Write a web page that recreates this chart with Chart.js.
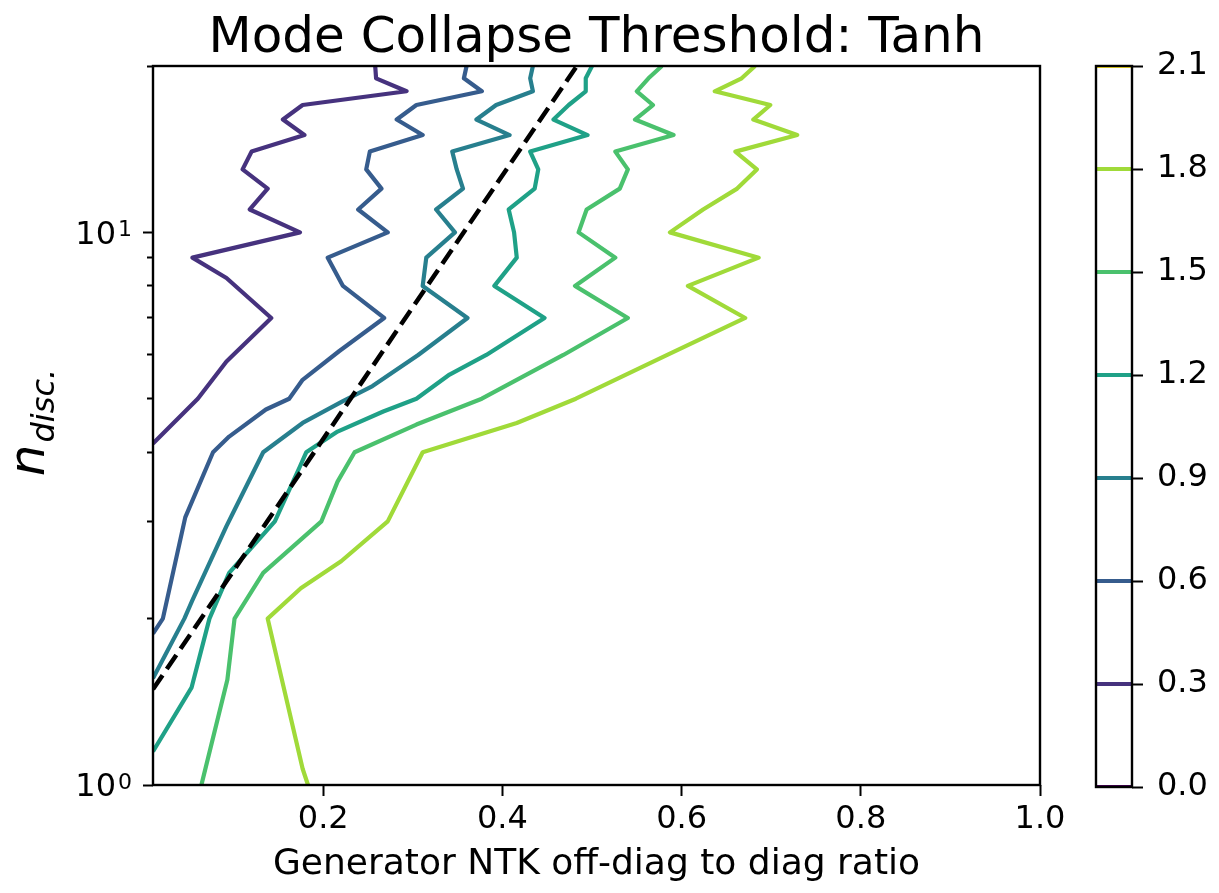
<!DOCTYPE html>
<html>
<head>
<meta charset="utf-8">
<script src="https://cdn.jsdelivr.net/npm/chart.js@4/dist/chart.umd.min.js"></script>
<style>
body{margin:0;background:#fff;}
#wrap{position:relative;width:1219px;height:893px;}
#wrap canvas{position:absolute;top:0;}
#plot{left:0;}
#cbar{left:1060px;}
</style>
</head>
<body>
<div id="wrap">
<canvas id="plot" width="1219" height="893"></canvas>
<canvas id="cbar" width="159" height="893"></canvas>
</div>
<script>
const titleText = "Mode Collapse Threshold: Tanh";
const xTitle = "Generator NTK off-diag to diag ratio";
const yTitleMain = "n";
const yTitleSub = "disc.";

// contour levels and their viridis colours
const levels = [0.3, 0.6, 0.9, 1.2, 1.5, 1.8];
const levelColors = ["#46327e", "#365c8d", "#277f8e", "#1fa187", "#4ac16d", "#a0da39"];
const cbarTicks = [0.0, 0.3, 0.6, 0.9, 1.2, 1.5, 1.8, 2.1];
const cbarColors = ["#440154", "#46327e", "#365c8d", "#277f8e", "#1fa187", "#4ac16d", "#a0da39", "#fde725"];

const xTicks = [0.2, 0.4, 0.6, 0.8, 1.0];
const yTicks = [1, 2, 3, 4, 5, 6, 7, 8, 9, 10, 20];
// decade labels: base and exponent
const yTickBase = {1: "10", 10: "10"};
const yTickExp = {1: "0", 10: "1"};

// contour paths: ratio (x) and n_disc (y)
const ratio03 = [0.258, 0.259, 0.293, 0.177, 0.155, 0.179, 0.120, 0.110, 0.138, 0.118, 0.174, 0.054, 0.092, 0.142, 0.092, 0.060, 0.010];
const ndisc03 = [20, 19, 18, 17, 16, 15, 14, 13, 12, 11, 10, 9, 8.27, 7, 5.84, 5, 4.15];

const ratio06 = [0.360, 0.357, 0.377, 0.304, 0.282, 0.311, 0.252, 0.248, 0.265, 0.239, 0.272, 0.205, 0.222, 0.268, 0.218, 0.177, 0.162, 0.136, 0.095, 0.077, 0.046, 0.021, 0.010];
const ndisc06 = [20, 19, 18, 17, 16, 15, 14, 13, 12, 11, 10, 9, 8, 7, 6.1, 5.41, 5, 4.78, 4.27, 4, 3.05, 2, 1.88];

const ratio09 = [0.434, 0.431, 0.434, 0.393, 0.371, 0.408, 0.344, 0.349, 0.356, 0.326, 0.347, 0.315, 0.311, 0.361, 0.306, 0.255, 0.222, 0.177, 0.133, 0.099, 0.092, 0.054, 0.045, 0.010];
const ndisc09 = [20, 19, 18, 17, 16, 15, 14, 13, 12, 11, 10, 9, 8, 7, 6, 5.27, 4.95, 4.52, 4, 3.1, 2.94, 2.16, 2, 1.56];

const ratio12 = [0.500, 0.493, 0.493, 0.474, 0.457, 0.495, 0.431, 0.440, 0.436, 0.407, 0.413, 0.416, 0.391, 0.447, 0.382, 0.341, 0.304, 0.267, 0.216, 0.181, 0.174, 0.146, 0.095, 0.073, 0.053, 0.010];
const ndisc12 = [20, 19, 18, 17, 16, 15, 14, 13, 12, 11, 10, 9, 8, 7, 6, 5.53, 5, 4.74, 4.36, 4, 3.77, 3, 2.42, 2, 1.50, 1.15];

const ratio15 = [0.578, 0.563, 0.550, 0.568, 0.548, 0.591, 0.526, 0.540, 0.531, 0.494, 0.485, 0.526, 0.481, 0.540, 0.468, 0.377, 0.304, 0.235, 0.216, 0.198, 0.133, 0.101, 0.093, 0.064];
const ndisc15 = [20, 19, 18, 17, 16, 15, 14, 13, 12, 11, 10, 9, 8, 7, 6, 5, 4.49, 4, 3.54, 3, 2.42, 2, 1.55, 1];

const ratio18 = [0.682, 0.667, 0.637, 0.699, 0.680, 0.729, 0.660, 0.684, 0.662, 0.624, 0.587, 0.686, 0.607, 0.671, 0.584, 0.482, 0.416, 0.311, 0.272, 0.220, 0.175, 0.138, 0.177, 0.183];
const ndisc18 = [20, 19, 18, 17, 16, 15, 14, 13, 12, 11, 10, 9, 8, 7, 6, 5, 4.52, 4, 3, 2.54, 2.27, 2, 1.07, 1];

// threshold line
const ratioThresh = [0.010, 0.483];
const ndiscThresh = [1.49, 20];

const ratios = [ratio03, ratio06, ratio09, ratio12, ratio15, ratio18];
const ndiscs = [ndisc03, ndisc06, ndisc09, ndisc12, ndisc15, ndisc18];

function toPoints(xs, ys){
	let pts = [];
	for(let i = 0; i < xs.length; i++){
		pts.push({x: xs[i], y: ys[i]});
	}
	return pts;
}

const tickFont = {family: '"DejaVu Sans", sans-serif', size: 32};
const yTickPad = 27;
const yLabelOffset = 3;

let datasets = [{
	data: toPoints(ratioThresh, ndiscThresh),
	borderColor: "#000",
	borderWidth: 4.5,
	borderDash: [17, 7.5],
	pointRadius: 0,
	order: 0
}];
for(let i = 0; i < levels.length; i++){
	datasets.push({
		data: toPoints(ratios[i], ndiscs[i]),
		borderColor: levelColors[i],
		borderWidth: 4.2,
		borderJoinStyle: "round",
		pointRadius: 0,
		order: 1
	});
}

// frame round the plot area, decade exponents, title and axis labels
const frameAndLabels = {
	id: "frameAndLabels",
	afterDatasetsDraw(chart){
		let a = chart.chartArea;
		let ctx = chart.ctx;
		ctx.save();
		ctx.strokeStyle = "#000";
		ctx.lineWidth = 2.4;
		ctx.strokeRect(a.left, a.top, a.right - a.left, a.bottom - a.top);
		ctx.restore();
	},
	afterDraw(chart){
		let a = chart.chartArea;
		let ctx = chart.ctx;
		let cx = (a.left + a.right) / 2;
		ctx.save();
		ctx.fillStyle = "#000";

		// exponents next to the "10" tick labels
		let ys = chart.scales.y;
		ctx.font = '22px "DejaVu Sans"';
		ctx.textAlign = "left";
		ctx.textBaseline = "alphabetic";
		for(let v in yTickExp){
			let py = ys.getPixelForValue(Number(v)) + yLabelOffset;
			ctx.fillText(yTickExp[v], a.left - 10 - yTickPad + 2, py + 0.5);
		}

		ctx.textAlign = "center";
		ctx.font = '50px "DejaVu Sans"';
		ctx.fillText(titleText, cx, 52);
		ctx.font = '36px "DejaVu Sans"';
		ctx.fillText(xTitle, cx, 874);

		// rotated n_disc. label
		ctx.font = 'italic 50px "DejaVu Sans"';
		let wMain = ctx.measureText(yTitleMain).width;
		ctx.font = 'italic 32px "DejaVu Sans"';
		let wSub = ctx.measureText(yTitleSub).width;
		let total = wMain + wSub + 2;
		ctx.translate(0, (a.top + a.bottom) / 2 - 3);
		ctx.rotate(-Math.PI / 2);
		ctx.textAlign = "left";
		ctx.font = 'italic 50px "DejaVu Sans"';
		ctx.fillText(yTitleMain, -total / 2, 44);
		ctx.font = 'italic 32px "DejaVu Sans"';
		ctx.fillText(yTitleSub, -total / 2 + wMain + 2, 54);
		ctx.restore();
	}
};

new Chart(document.getElementById("plot"), {
	type: "line",
	data: {datasets: datasets},
	options: {
		responsive: false,
		animation: false,
		layout: {padding: {left: 0, right: 179, top: 66, bottom: 0}},
		plugins: {legend: {display: false}, tooltip: {enabled: false}},
		scales: {
			x: {
				type: "linear",
				min: 0.01,
				max: 1.0,
				afterFit: s => { s.height = 108; },
				afterBuildTicks: s => { s.ticks = xTicks.map(v => ({value: v})); },
				border: {display: false},
				grid: {drawOnChartArea: false, tickLength: 11, tickColor: "#000", tickWidth: 2},
				ticks: {autoSkip: false, maxRotation: 0, color: "#000", font: tickFont, padding: 4,
					callback: v => v.toFixed(1)}
			},
			y: {
				type: "logarithmic",
				min: 1,
				max: 20,
				afterFit: s => { s.width = 153; },
				afterBuildTicks: s => { s.ticks = yTicks.map(v => ({value: v, major: v == 1 || v == 10})); },
				border: {display: false},
				grid: {drawOnChartArea: false, tickLength: 10, tickColor: "#000", tickWidth: 2,
					tickBorderDash: c => (c.tick && c.tick.major) ? [] : [0, 4, 6, 100]},
				ticks: {autoSkip: false, color: "#000", font: tickFont, padding: yTickPad, labelOffset: yLabelOffset,
					callback: v => yTickBase[v] || ""}
			}
		}
	},
	plugins: [frameAndLabels]
});

// colour bar with one line per contour level
const cbarFrame = {
	id: "cbarFrame",
	afterDatasetsDraw(chart){
		let a = chart.chartArea;
		let ctx = chart.ctx;
		ctx.save();
		ctx.strokeStyle = "#000";
		ctx.lineWidth = 2.4;
		ctx.strokeRect(a.left, a.top, a.right - a.left, a.bottom - a.top);
		ctx.restore();
	}
};

new Chart(document.getElementById("cbar"), {
	type: "line",
	data: {
		datasets: cbarTicks.map((lv, i) => ({
			data: [{x: 0, y: lv}, {x: 1, y: lv}],
			borderColor: cbarColors[i],
			borderWidth: 4,
			pointRadius: 0,
			clip: 0
		}))
	},
	options: {
		responsive: false,
		animation: false,
		layout: {padding: {left: 36, right: 0, top: 66, bottom: 106}},
		plugins: {legend: {display: false}, tooltip: {enabled: false}},
		scales: {
			x: {type: "linear", min: 0, max: 1, display: false},
			y: {
				type: "linear",
				position: "right",
				min: 0,
				max: 2.1,
				afterFit: s => { s.width = 87; },
				afterBuildTicks: s => { s.ticks = cbarTicks.map(v => ({value: v})); },
				border: {display: false},
				grid: {drawOnChartArea: false, tickLength: 11, tickColor: "#000", tickWidth: 2},
				ticks: {autoSkip: false, color: "#000", font: tickFont, padding: 14,
					callback: v => v.toFixed(1)}
			}
		}
	},
	plugins: [cbarFrame]
});
</script>
</body>
</html>
